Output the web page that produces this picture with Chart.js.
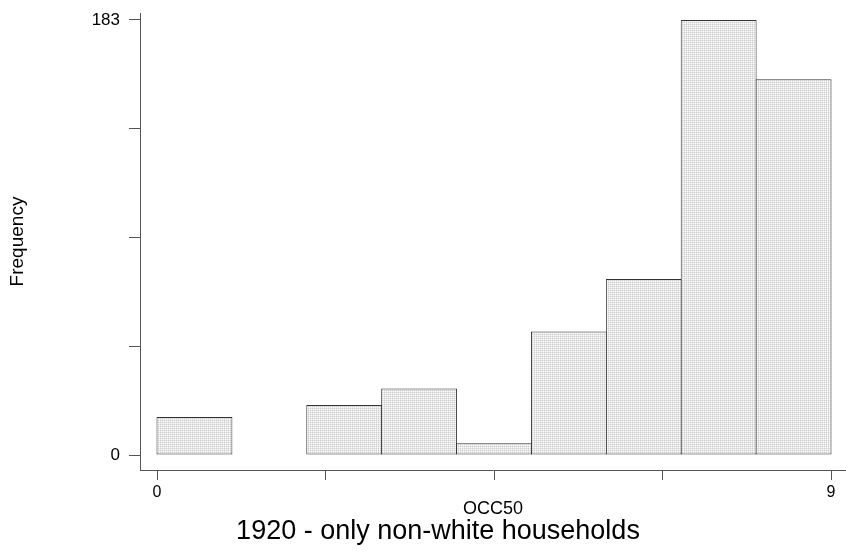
<!DOCTYPE html>
<html>
<head>
<meta charset="utf-8">
<script src="https://cdn.jsdelivr.net/npm/chart.js@4"></script>
<style>
    html, body { margin: 0; padding: 0; background: #fff; }
    #wrap { width: 846px; height: 552px; position: relative; }
</style>
</head>
<body>
<div id="wrap"><canvas id="histChart"></canvas></div>
<script>
// histogram of OCC50, 1920, non-white households
const binStarts = [0, 1, 2, 3, 4, 5, 6, 7, 8];
const counts = [16, 0, 21, 28, 5, 52, 74, 183, 158];

const xTickValues = [0, 2.25, 4.5, 6.75, 9];
const xTickLabels = [0, 9];
const yTickValues = [0, 45.75, 91.5, 137.25, 183];
const yTickLabels = [0, 183];

const FONT = '"Liberation Sans", Arial, Helvetica, sans-serif';
const AXIS_GREY = '#555';

/* ===============================
   STIPPLE FILL
================================ */
function stipple() {
    const c = document.createElement('canvas');
    c.width = 2;
    c.height = 2;
    const g = c.getContext('2d');
    g.fillStyle = '#fafafa'; g.fillRect(0, 0, 2, 2);
    g.fillStyle = '#e8e8e8'; g.fillRect(1, 0, 1, 1); g.fillRect(0, 1, 1, 1);
    g.fillStyle = '#cccccc'; g.fillRect(0, 0, 1, 1);
    return g.createPattern(c, 'repeat');
}

const bottomTitle = {
    id: 'bottomTitle',
    afterDraw(chart) {
        const ctx = chart.ctx;
        ctx.save();
        ctx.font = '27px ' + FONT;
        ctx.fillStyle = '#000';
        ctx.textAlign = 'center';
        ctx.textBaseline = 'middle';
        ctx.fillText('1920 - only non-white households', 438, 532);
        ctx.restore();
    }
};

new Chart(document.getElementById('histChart'), {
    type: 'bar',
    data: {
        datasets: [{
            data: binStarts.map((b, i) => ({ x: b + 0.5, y: counts[i] })),
            backgroundColor: stipple(),
            borderColor: '#333',
            borderWidth: 1,
            borderSkipped: false,
            barPercentage: 1.0134,
            categoryPercentage: 1
        }]
    },
    options: {
        animation: false,
        responsive: true,
        maintainAspectRatio: false,
        layout: { padding: { top: 13, left: 0, right: 0, bottom: 0 } },
        plugins: {
            legend: { display: false },
            tooltip: { enabled: false },
            title: { display: false }
        },
        scales: {
            x: {
                type: 'linear',
                min: -0.227,
                max: 9.2,
                offset: false,
                afterBuildTicks: s => { s.ticks = xTickValues.map(v => ({ value: v })); },
                afterFit: s => { s.height = 82; },
                grid: {
                    offset: false,
                    drawOnChartArea: false,
                    drawTicks: true,
                    tickLength: 10,
                    tickColor: AXIS_GREY
                },
                border: { display: true, color: AXIS_GREY, width: 1 },
                ticks: {
                    autoSkip: false,
                    maxRotation: 0,
                    padding: 3,
                    color: '#000',
                    font: { family: FONT, size: 16 },
                    callback: v => xTickLabels.includes(v) ? String(v) : ''
                },
                title: {
                    display: true,
                    text: 'OCC50',
                    color: '#000',
                    font: { family: FONT, size: 18 },
                    padding: { top: 0, bottom: 32 }
                }
            },
            y: {
                min: -6.3,
                max: 185.9,
                afterBuildTicks: s => { s.ticks = yTickValues.map(v => ({ value: v })); },
                afterFit: s => {
                    s.width = 140;
                    s.paddingTop = 0;
                    s.paddingBottom = 0;
                },
                grid: {
                    drawOnChartArea: false,
                    drawTicks: true,
                    tickLength: 11,
                    tickColor: AXIS_GREY
                },
                border: { display: true, color: AXIS_GREY, width: 1 },
                ticks: {
                    autoSkip: false,
                    padding: 9,
                    color: '#000',
                    font: { family: FONT, size: 17 },
                    callback: v => yTickLabels.includes(v) ? String(v) : ''
                },
                title: {
                    display: true,
                    text: 'Frequency',
                    color: '#000',
                    font: { family: FONT, size: 19 },
                    padding: { top: 6.6, bottom: 0 }
                }
            }
        }
    },
    plugins: [bottomTitle]
});
</script>
</body>
</html>
